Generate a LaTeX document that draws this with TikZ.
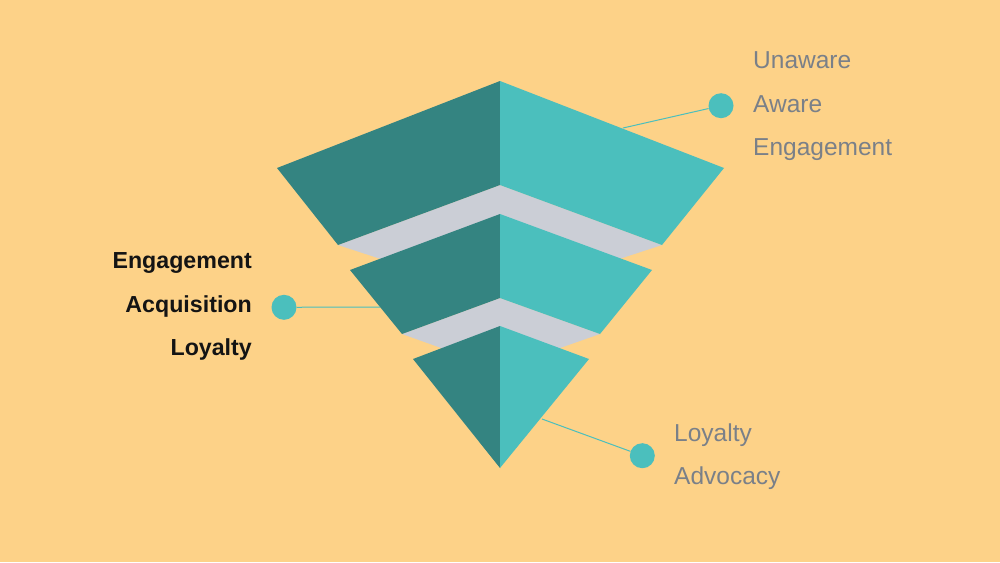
\documentclass[tikz,border=0pt]{standalone}
\usepackage{fontspec}
\setmainfont{Liberation Sans}
\definecolor{bg}{HTML}{FDD288}
\definecolor{tealdark}{HTML}{348481}
\definecolor{teallight}{HTML}{4BBFBD}
\definecolor{band}{HTML}{CBCED6}
\definecolor{labelgray}{HTML}{7A8088}
\definecolor{labelblack}{HTML}{141414}
\tikzset{
  dot/.style={circle,fill=teallight,minimum size=25pt,inner sep=0pt},
  link/.style={draw=teallight,line width=1pt},
  graylabel/.style={anchor=base west,inner sep=0pt,text=labelgray,font=\fontsize{24.5}{28}\selectfont},
  boldlabel/.style={anchor=base east,inner sep=0pt,text=labelblack,font=\fontsize{23.2}{28}\selectfont\bfseries},
}
\begin{document}
\begin{tikzpicture}[x=1pt,y=-1pt]
\fill[bg] (0,0) rectangle (1000,562);
\useasboundingbox (0,0) rectangle (1000,562);
% connectors (behind shapes)
\coordinate (c1) at (623,128);
\coordinate (c2) at (380,307);
\coordinate (c3) at (542,419);
\node[dot] (d1) at (721,105.7) {};
\node[dot] (d2) at (284,307.3) {};
\node[dot] (d3) at (642.3,455.7) {};
\draw[link] (c1) -- (d1);
\draw[link] (c2) -- (d2);
\draw[link] (c3) -- (d3);
% gray bands
\fill[band] (338,245) -- (500,185) -- (662,245) -- (500,298) -- cycle;
\fill[band] (402,334) -- (500,298) -- (600,334) -- (500,369) -- cycle;
% tier 1
\fill[tealdark] (500,81) -- (277,168) -- (338,245) -- (500,185) -- cycle;
\fill[teallight] (500,81) -- (724,168) -- (662,245) -- (500,185) -- cycle;
% tier 2
\fill[tealdark] (500,214) -- (350,270) -- (402,334) -- (500,298) -- cycle;
\fill[teallight] (500,214) -- (652,270) -- (600,334) -- (500,298) -- cycle;
% tier 3
\fill[tealdark] (500,326) -- (413,359) -- (500,468) -- cycle;
\fill[teallight] (500,326) -- (589,359) -- (500,468) -- cycle;
% labels
\node[graylabel] (t1) at (753,68.5) {Unaware};
\node[graylabel] (t2) at (753,112) {Aware};
\node[graylabel] (t3) at (753,155.5) {Engagement};
\node[boldlabel] (l1) at (252,268.5) {Engagement};
\node[boldlabel] (l2) at (252,312.5) {Acquisition};
\node[boldlabel] (l3) at (252,355.5) {Loyalty};
\node[graylabel] (b1) at (674,441.5) {Loyalty};
\node[graylabel] (b2) at (674,484.5) {Advocacy};
\end{tikzpicture}
\end{document}
